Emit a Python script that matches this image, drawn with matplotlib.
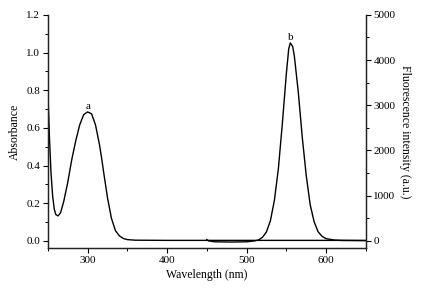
import matplotlib.pyplot as plt
from matplotlib.ticker import MultipleLocator
import numpy as np

plt.rcParams['font.family'] = ['Liberation Serif', 'DejaVu Serif']

# absorbance spectrum (curve a)
abs_wl = [250, 252, 254, 256, 258, 260, 263, 266, 270, 275, 280, 285, 290, 295,
          300, 305, 310, 315, 318, 320, 325, 330, 335, 340, 345, 350, 360, 400,
          450, 500, 550, 600, 650]
abs_val = [0.80, 0.55, 0.36, 0.24, 0.17, 0.14, 0.133, 0.15, 0.21, 0.31, 0.43,
           0.53, 0.615, 0.67, 0.685, 0.675, 0.615, 0.51, 0.43, 0.37, 0.23, 0.12,
           0.055, 0.027, 0.013, 0.007, 0.004, 0.003, 0.003, 0.003, 0.003, 0.003,
           0.003]

# fluorescence spectrum (curve b)
fl_wl = [450, 452, 460, 480, 500, 510, 515, 520, 525, 530, 535, 540, 545, 550,
         553, 555, 558, 560, 565, 570, 575, 580, 585, 590, 595, 600, 610, 620, 650]
fl_val = [30, 0, -20, -25, -20, 0, 20, 80, 200, 450, 900, 1600, 2600, 3700,
          4250, 4380, 4300, 4100, 3300, 2300, 1450, 800, 420, 200, 100, 50, 20,
          10, 5]

fig = plt.figure(figsize=(4.35, 2.92), dpi=100)
ax = fig.add_axes([0.110, 0.151, 0.731, 0.798])
ax2 = ax.twinx()

ax.plot(abs_wl, abs_val, color='black', lw=1.0)
ax2.plot(fl_wl, fl_val, color='black', lw=1.0)

# peak labels, using the band maximum away from the UV edge
band = [i for i, w in enumerate(abs_wl) if w >= 280]
ia = max(band, key=lambda i: abs_val[i])
ax.text(abs_wl[ia], abs_val[ia] + 0.005, 'a', ha='center', va='bottom', fontsize=8)
ib = int(np.argmax(fl_val))
ax2.text(fl_wl[ib], fl_val[ib] + 20, 'b', ha='center', va='bottom', fontsize=8)

ax.set_xlim(250, 650)
ax.set_ylim(-0.037, 1.2)
ax2.set_ylim(-155, 5000)

ax.xaxis.set_major_locator(MultipleLocator(100))
ax.xaxis.set_minor_locator(MultipleLocator(50))
ax.yaxis.set_major_locator(MultipleLocator(0.2))
ax.yaxis.set_minor_locator(MultipleLocator(0.1))
ax2.yaxis.set_major_locator(MultipleLocator(1000))
ax2.yaxis.set_minor_locator(MultipleLocator(500))
ax.yaxis.set_major_formatter(plt.FuncFormatter(lambda v, p: f'{v:.1f}'))

for a in (ax, ax2):
    a.spines['top'].set_visible(False)
    for s in a.spines.values():
        s.set_linewidth(0.9)
        s.set_color('#222222')
    a.tick_params(which='major', direction='out', length=3.5, width=0.8,
                  labelsize=8, pad=2)
    a.tick_params(which='minor', direction='out', length=2, width=0.7)

ax.set_xlabel('Wavelength (nm)', fontsize=8.5, labelpad=3)
ax.set_ylabel('Absorbance', fontsize=8.5, labelpad=4)
ax2.set_ylabel('Fluorescence intensity (a.u.)', fontsize=8.5, rotation=270,
               labelpad=11)

fig.savefig('out.png', dpi=100)
